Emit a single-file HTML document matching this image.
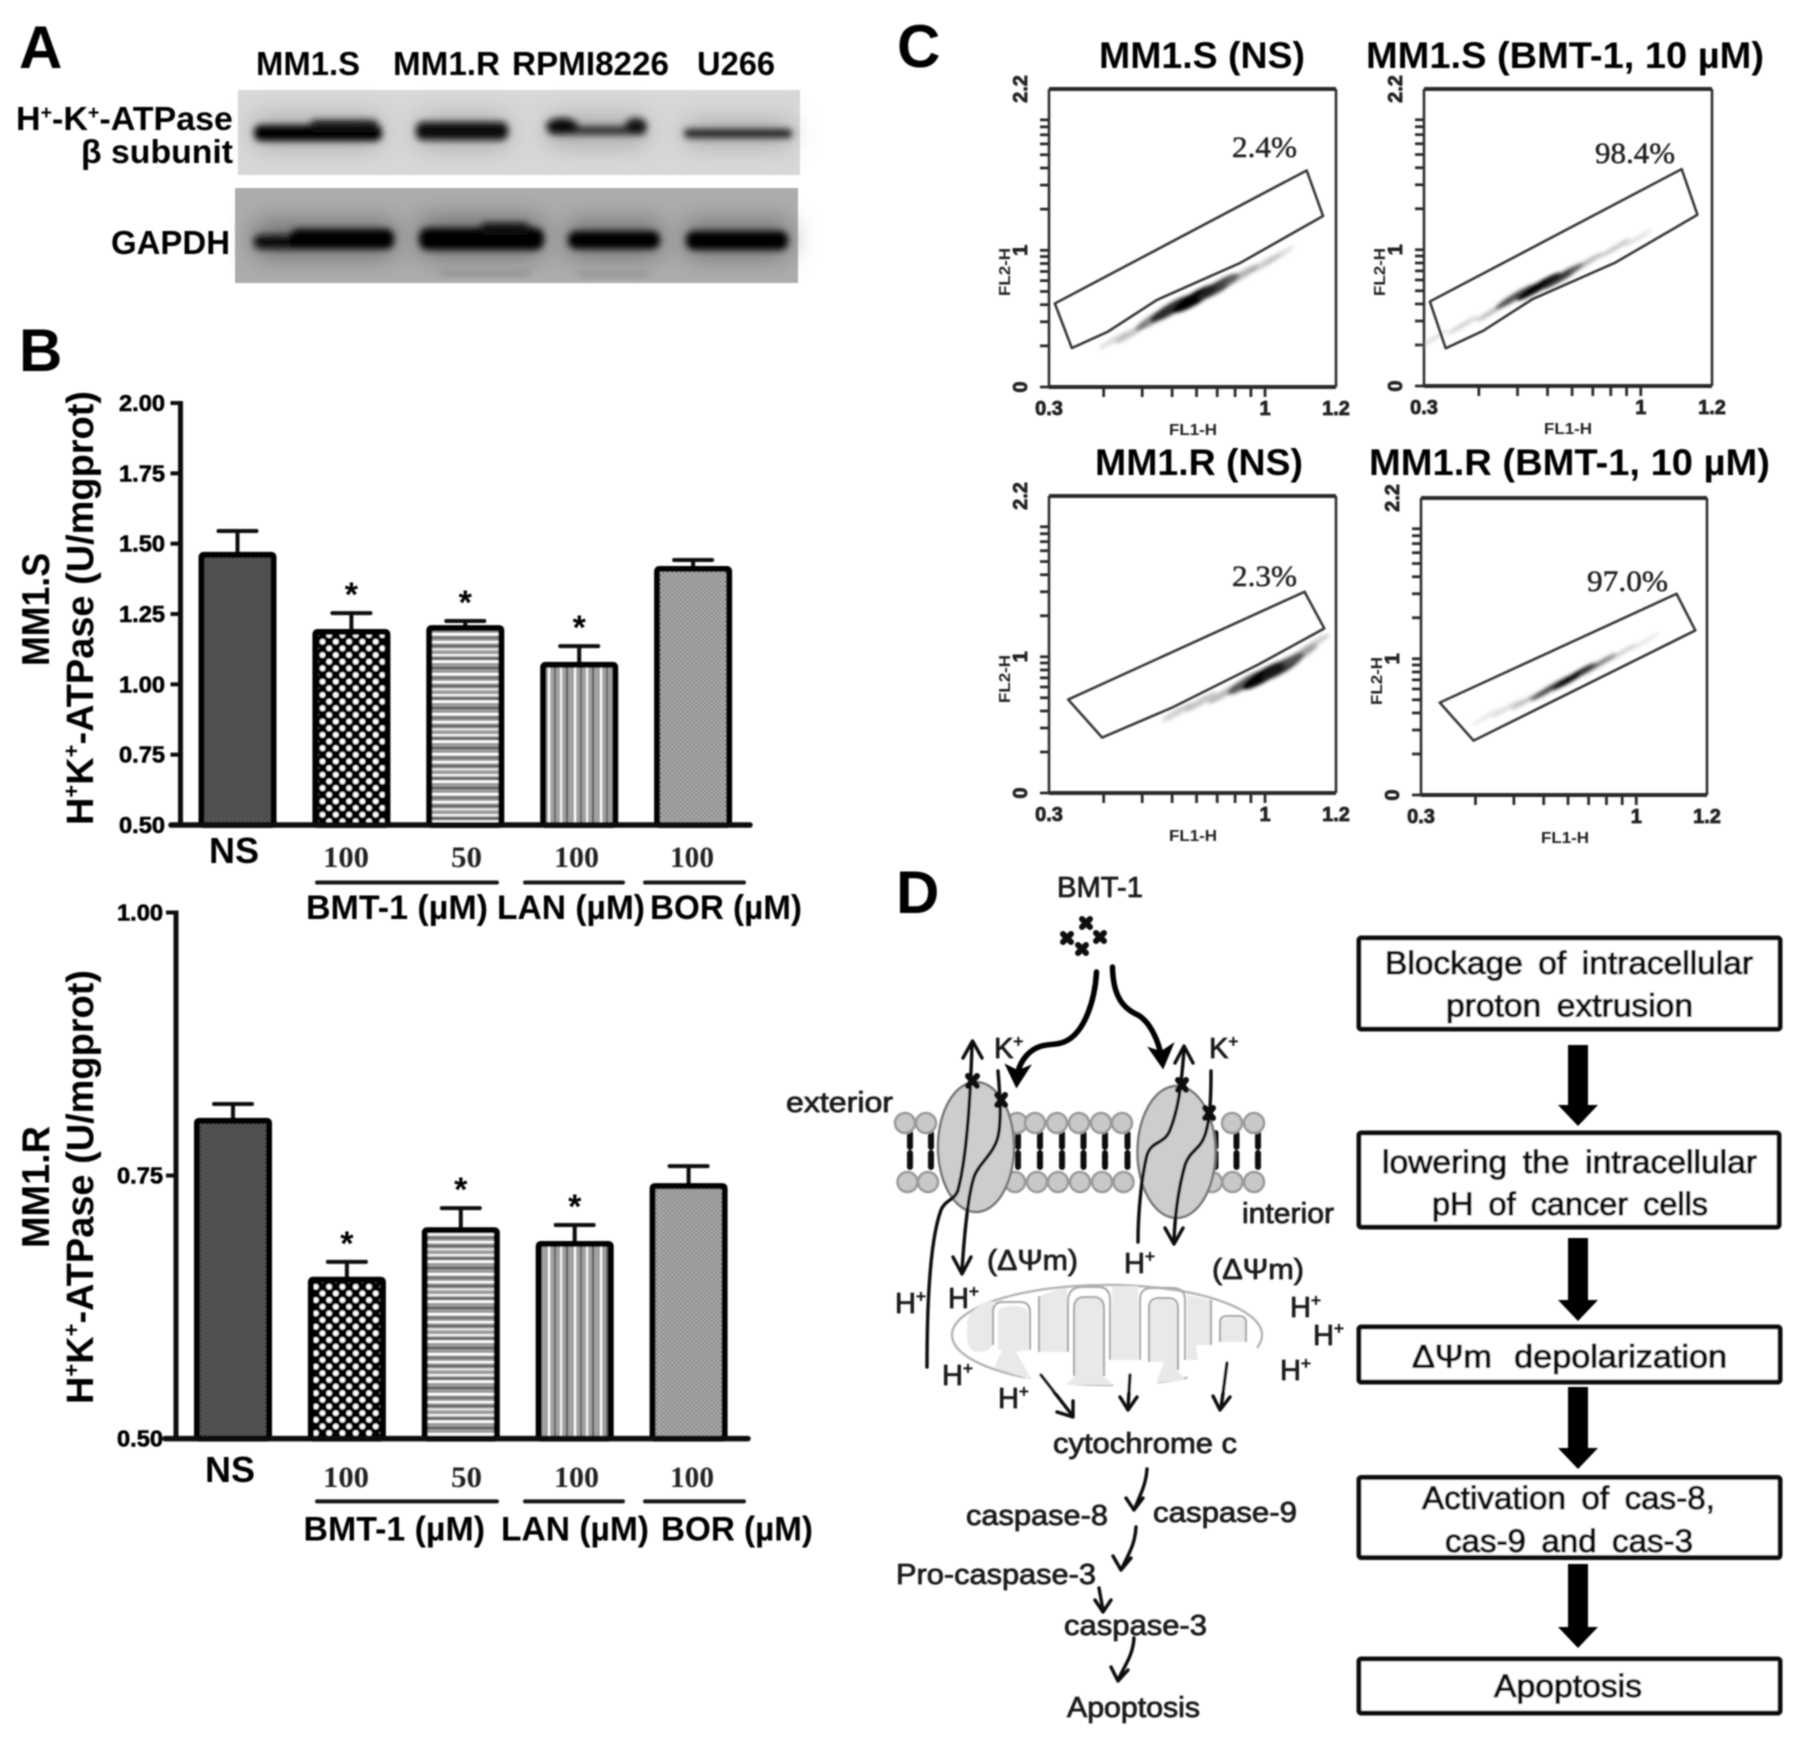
<!DOCTYPE html>
<html lang="en">
<head>
<meta charset="utf-8">
<title>H+-K+-ATPase figure</title>
<style>
html,body{margin:0;padding:0;background:#fff;}
svg{display:block;}
text{font-family:"Liberation Sans",sans-serif;}
.letter{font-weight:700;font-size:60px;fill:#000;}
.lab{font-weight:700;font-size:33px;fill:#050505;}
.ttl{font-weight:700;font-size:37px;fill:#050505;}
.d{font-size:29px;fill:#1a1a1a;stroke:#1a1a1a;stroke-width:.8px;}
.f{font-size:32px;fill:#0a0a0a;stroke:#0a0a0a;stroke-width:1.1px;}
.ln{fill:none;stroke:#0a0a0a;stroke-width:3.4;stroke-linecap:round;stroke-linejoin:round;}
.thick{fill:none;stroke:#000;stroke-width:5.5;stroke-linecap:round;}
.xm{fill:none;stroke:#0a0a0a;stroke-width:6;stroke-linecap:round;}
.box{fill:#fff;stroke:#0a0a0a;stroke-width:5;}
.cris{fill:#e9e9e9;stroke:none;}
.crisline{fill:none;stroke:#ababab;stroke-width:2.2;}
</style>
</head>
<body>
<svg id="figure" xmlns="http://www.w3.org/2000/svg" width="1795" height="1738" viewBox="0 0 1795 1738">
<defs>
  <filter id="soft" x="-2%" y="-2%" width="104%" height="104%"><feGaussianBlur stdDeviation="0.85"/></filter>
  <filter id="bandBlur" x="-20%" y="-100%" width="140%" height="300%"><feGaussianBlur stdDeviation="3.5"/></filter>
  <filter id="haloBlur" x="-30%" y="-200%" width="160%" height="500%"><feGaussianBlur stdDeviation="13"/></filter>
  <filter id="cloudBlur" x="-50%" y="-50%" width="200%" height="200%"><feGaussianBlur stdDeviation="1.8"/></filter>
  <pattern id="pat-dark" width="4" height="4" patternUnits="userSpaceOnUse"><rect width="4" height="4" fill="#3f3f3f"/><rect width="2" height="2" fill="#5c5c5c"/><rect x="2" y="2" width="2" height="2" fill="#5c5c5c"/></pattern>
  <pattern id="pat-dots" width="13.3" height="13.3" patternUnits="userSpaceOnUse"><rect width="13.3" height="13.3" fill="#050505"/><circle cx="3.3" cy="3.3" r="2.8" fill="#fff"/><circle cx="9.95" cy="9.95" r="2.8" fill="#fff"/></pattern>
  <pattern id="pat-hstripe" width="10" height="40" patternUnits="userSpaceOnUse"><rect width="10" height="40" fill="#9a9a9a"/><rect y="1" width="10" height="2.2" fill="#fff"/><rect y="5" width="10" height="2" fill="#5f5f5f"/><rect y="8.5" width="10" height="2" fill="#e4e4e4"/><rect y="14" width="10" height="2.2" fill="#f2f2f2"/><rect y="17.5" width="10" height="1.8" fill="#5a5a5a"/><rect y="20.5" width="10" height="2.4" fill="#fff"/><rect y="27" width="10" height="2" fill="#555"/><rect y="33" width="10" height="2.4" fill="#fff"/><rect y="37" width="10" height="1.6" fill="#666"/></pattern>
  <pattern id="pat-vstripe" width="26" height="10" patternUnits="userSpaceOnUse"><rect width="26" height="10" fill="#a0a0a0"/><rect x="2" width="2.2" height="10" fill="#fff"/><rect x="8" width="2" height="10" fill="#666"/><rect x="14" width="2.2" height="10" fill="#f4f4f4"/><rect x="20" width="2" height="10" fill="#5a5a5a"/></pattern>
  <pattern id="pat-gray" width="4.4" height="4.4" patternUnits="userSpaceOnUse"><rect width="4.4" height="4.4" fill="#858585"/><rect width="2.2" height="2.2" fill="#b2b2b2"/><rect x="2.2" y="2.2" width="2.2" height="2.2" fill="#b2b2b2"/></pattern>
</defs>

<g id="root" filter="url(#soft)">

<!-- PANEL A -->
<g>
  <text class="letter" x="19" y="68">A</text>
  <text class="lab" x="256" y="75" textLength="104" lengthAdjust="spacingAndGlyphs">MM1.S</text>
  <text class="lab" x="393" y="75" textLength="107" lengthAdjust="spacingAndGlyphs">MM1.R</text>
  <text class="lab" x="512" y="75" textLength="157" lengthAdjust="spacingAndGlyphs">RPMI8226</text>
  <text class="lab" x="697" y="75" textLength="78" lengthAdjust="spacingAndGlyphs">U266</text>
  <text class="lab" x="16" y="130" textLength="217" lengthAdjust="spacingAndGlyphs">H<tspan font-size="19" dy="-11">+</tspan><tspan dy="11">-K</tspan><tspan font-size="19" dy="-11">+</tspan><tspan dy="11">-ATPase</tspan></text>
  <text class="lab" x="81" y="163" textLength="152" lengthAdjust="spacingAndGlyphs">β subunit</text>
  <text class="lab" x="111" y="254" textLength="119" lengthAdjust="spacingAndGlyphs">GAPDH</text>

  <rect x="238" y="90" width="562" height="85" fill="#d8d8d8"/>
  <g filter="url(#haloBlur)" fill="#a4a4a4">
    <rect x="255" y="118" width="125" height="28"/><rect x="418" y="118" width="90" height="28"/><rect x="548" y="118" width="98" height="26"/><rect x="686" y="122" width="104" height="22"/>
  </g>
  <g filter="url(#bandBlur)">
    <rect x="254" y="125" width="128" height="16" rx="7" fill="#050505"/>
    <rect x="310" y="120" width="68" height="10" rx="5" fill="#151515"/>
    <rect x="416" y="122" width="92" height="18" rx="7" fill="#080808"/>
    <rect x="548" y="126" width="98" height="9" rx="4" fill="#333"/>
    <ellipse cx="562" cy="126" rx="16" ry="8" fill="#0c0c0c"/>
    <ellipse cx="636" cy="126" rx="11" ry="8" fill="#141414"/>
    <rect x="684" y="129" width="108" height="9" rx="4" fill="#222"/>
  </g>
  <rect x="235" y="188" width="563" height="95" fill="#adadad"/>
  <g filter="url(#haloBlur)" fill="#6e6e6e">
    <rect x="255" y="222" width="140" height="34"/><rect x="420" y="218" width="122" height="38"/><rect x="568" y="222" width="92" height="34"/><rect x="686" y="222" width="102" height="34"/>
  </g>
  <g filter="url(#bandBlur)">
    <rect x="254" y="235" width="60" height="14" rx="6" fill="#0a0a0a"/>
    <rect x="290" y="229" width="104" height="20" rx="8" fill="#030303"/>
    <rect x="419" y="228" width="125" height="22" rx="9" fill="#030303"/>
    <rect x="480" y="223" width="50" height="12" rx="6" fill="#111"/>
    <rect x="568" y="231" width="92" height="18" rx="8" fill="#060606"/>
    <rect x="686" y="231" width="102" height="19" rx="8" fill="#060606"/>
  </g>
  <rect x="440" y="271" width="90" height="4" fill="#8a8a8a" filter="url(#bandBlur)"/>
  <rect x="578" y="272" width="70" height="4" fill="#8e8e8e" filter="url(#bandBlur)"/>
</g>

<!-- PANEL B (drawn by script) -->
<g id="panel-b">
  <text class="letter" x="19" y="371">B</text>
</g>

<!-- PANEL C -->
<g id="panel-c">
  <text class="letter" x="897" y="67">C</text>
  <text class="ttl" x="1099" y="68" textLength="206" lengthAdjust="spacingAndGlyphs">MM1.S (NS)</text>
  <text class="ttl" x="1366" y="68" textLength="398" lengthAdjust="spacingAndGlyphs">MM1.S (BMT-1, 10 µM)</text>
  <text class="ttl" x="1095" y="475" textLength="208" lengthAdjust="spacingAndGlyphs">MM1.R (NS)</text>
  <text class="ttl" x="1369" y="475" textLength="401" lengthAdjust="spacingAndGlyphs">MM1.R (BMT-1, 10 µM)</text>
</g>

<!-- PANEL D -->
<g id="panel-d">
  <text class="letter" x="896" y="913">D</text>
  <text class="d" x="1057" y="897" textLength="86" lengthAdjust="spacingAndGlyphs">BMT-1</text>
  <g>
    <path class="xm" d="M1082 919l8 8M1090 919l-8 8"/>
    <path class="xm" d="M1096 933l8 8M1104 933l-8 8"/>
    <path class="xm" d="M1063 934l8 8M1071 934l-8 8"/>
    <path class="xm" d="M1078 945l8 8M1086 945l-8 8"/>
  </g>
  <g id="membrane"></g>
  <ellipse cx="976" cy="1147" rx="38" ry="65" fill="#cdcdcd" stroke="#777" stroke-width="2.5"/>
  <ellipse cx="1176.5" cy="1152" rx="39" ry="66" fill="#cdcdcd" stroke="#777" stroke-width="2.5"/>

  <path class="thick" d="M1096.5 972C1095 1000 1085 1030 1068 1040C1055 1048 1042 1040 1028 1054C1020 1062 1018 1070 1017 1076"/>
  <path d="M1006 1065L1016.5 1087L1030 1066L1018 1071Z" fill="#000" stroke="#000" stroke-width="1.5"/>
  <path class="thick" d="M1112.5 967C1113 995 1122 1008 1138 1015C1150 1022 1158 1040 1161 1055"/>
  <path d="M1149 1048L1163 1068L1173 1044L1161 1052Z" fill="#000" stroke="#000" stroke-width="1.5"/>

  <path class="ln" d="M927 1367C927 1300 930 1240 941 1210C945 1200 955 1200 958 1190C966 1160 970 1110 972 1045"/>
  <path class="ln" d="M963 1058L972.5 1041L982 1058"/>
  <path class="ln" d="M998 1071C1000 1095 1002 1125 997 1140C992 1155 978 1165 974 1177C968 1195 964 1240 962 1270"/>
  <path class="ln" d="M953 1257L962 1274L971 1257"/>
  <path class="ln" d="M1138 1242C1138 1210 1142 1175 1147 1155C1152 1140 1164 1145 1170 1130C1180 1105 1182 1075 1184 1050"/>
  <path class="ln" d="M1175 1063L1184 1046L1193 1063"/>
  <path class="ln" d="M1211 1071C1211 1100 1210 1120 1205 1135C1200 1150 1190 1150 1185 1165C1178 1190 1175 1215 1174 1240"/>
  <path class="ln" d="M1165 1228L1174 1244L1183 1228"/>

  <path class="xm" d="M968 1076l9 10M977 1076l-9 10"/>
  <path class="xm" d="M997 1095l8 10M1005 1095l-8 10"/>
  <path class="xm" d="M1178 1080l8 10M1186 1080l-8 10"/>
  <path class="xm" d="M1205 1108l8 10M1213 1108l-8 10"/>

  <text class="d" x="994" y="1058">K<tspan font-size="17" dy="-11">+</tspan></text>
  <text class="d" x="1209" y="1058">K<tspan font-size="17" dy="-11">+</tspan></text>
  <text class="d" x="786" y="1112" textLength="107" lengthAdjust="spacingAndGlyphs">exterior</text>
  <text class="d" x="1242" y="1223" textLength="92" lengthAdjust="spacingAndGlyphs">interior</text>
  <text class="d" x="987" y="1270" textLength="91" lengthAdjust="spacingAndGlyphs">(ΔΨm)</text>
  <text class="d" x="1212" y="1279" textLength="92" lengthAdjust="spacingAndGlyphs">(ΔΨm)</text>
  <text class="d" x="1124" y="1273">H<tspan font-size="17" dy="-11">+</tspan></text>
  <text class="d" x="895" y="1313">H<tspan font-size="17" dy="-11">+</tspan></text>
  <text class="d" x="948" y="1308">H<tspan font-size="17" dy="-11">+</tspan></text>
  <text class="d" x="1290" y="1317">H<tspan font-size="17" dy="-11">+</tspan></text>
  <text class="d" x="1313" y="1345">H<tspan font-size="17" dy="-11">+</tspan></text>
  <text class="d" x="1280" y="1380">H<tspan font-size="17" dy="-11">+</tspan></text>
  <text class="d" x="942" y="1385">H<tspan font-size="17" dy="-11">+</tspan></text>
  <text class="d" x="998" y="1408">H<tspan font-size="17" dy="-11">+</tspan></text>

  <g>
    <ellipse cx="1107" cy="1335" rx="155" ry="50" fill="#fff" stroke="#b5b5b5" stroke-width="2.5"/>
    <path d="M1016 1352L1074 1348L1074 1392L1030 1392Z" fill="#fff"/>
    <path d="M1104 1360L1158 1362L1158 1392L1116 1392Z" fill="#fff"/>
    <path d="M1195 1346L1250 1342L1262 1352L1225 1392L1184 1392Z" fill="#fff"/>
    <path class="cris" d="M967 1325C967 1312 980 1303 993 1301L993 1340C993 1350 985 1352 978 1352C970 1352 967 1345 967 1335Z"/>
    <path class="cris" d="M998 1312C998 1304 1028 1304 1028 1312L1028 1350L1016 1352L1032 1380L994 1368L1002 1350L998 1350Z"/>
    <path class="cris" d="M1040 1296Q1053 1290 1067 1288L1067 1352L1040 1352Z"/>
    <path class="cris" d="M1075 1306C1075 1295 1103 1295 1103 1306L1103 1376L1114 1385L1066 1385L1075 1376Z"/>
    <path class="cris" d="M1112 1286L1138 1286L1138 1360L1112 1360Z"/>
    <path class="cris" d="M1150 1308C1150 1296 1177 1296 1177 1308L1177 1370L1186 1380L1156 1383L1164 1362L1150 1362Z"/>
    <path class="cris" d="M1187 1295L1210 1300L1210 1345L1196 1345L1198 1360L1187 1360Z"/>
    <path class="cris" d="M1220 1322C1220 1316 1245 1316 1245 1322L1245 1342L1220 1342Z"/>
    <path class="crisline" d="M993 1345V1312Q993 1302 1003 1302H1020Q1030 1302 1030 1312V1350"/>
    <path class="crisline" d="M1068 1352V1302Q1068 1287 1082 1287H1098Q1110 1287 1110 1300V1360"/>
    <path class="crisline" d="M1074 1376V1308Q1074 1297 1085 1297H1093Q1104 1297 1104 1308V1376"/>
    <path class="crisline" d="M1140 1360V1300Q1140 1288 1152 1288H1172Q1185 1288 1185 1300V1360"/>
    <path class="crisline" d="M1149 1362V1308Q1149 1298 1159 1298H1168Q1178 1298 1178 1308V1370"/>
    <path class="crisline" d="M1220 1342V1322Q1220 1316 1228 1316H1238Q1246 1316 1246 1322V1342"/>
    <path class="crisline" d="M1211 1300V1345"/>
    <path class="crisline" d="M1039 1296V1352"/>
  </g>

  <path class="ln" d="M1041 1375L1072 1415M1057 1412L1073 1417L1073 1401"/>
  <path class="ln" d="M1130 1375L1128 1408M1120 1397L1128 1410L1137 1397"/>
  <path class="ln" d="M1227 1363L1221 1408M1213 1396L1220 1410L1230 1397"/>
  <text class="d" x="1053" y="1453" textLength="184" lengthAdjust="spacingAndGlyphs">cytochrome c</text>
  <path class="ln" d="M1147 1469C1146 1485 1140 1495 1135 1508M1126 1498L1134 1510L1143 1498"/>
  <text class="d" x="966" y="1525" textLength="142" lengthAdjust="spacingAndGlyphs">caspase-8</text>
  <text class="d" x="1153" y="1522" textLength="144" lengthAdjust="spacingAndGlyphs">caspase-9</text>
  <path class="ln" d="M1136 1527C1135 1545 1128 1555 1122 1568M1113 1556L1121 1570L1131 1558"/>
  <text class="d" x="896" y="1584" textLength="200" lengthAdjust="spacingAndGlyphs">Pro-caspase-3</text>
  <path class="ln" d="M1099 1588L1103 1610M1095 1600L1103 1612L1111 1600"/>
  <text class="d" x="1064" y="1635" textLength="143" lengthAdjust="spacingAndGlyphs">caspase-3</text>
  <path class="ln" d="M1134 1638C1133 1655 1125 1665 1119 1678M1111 1667L1118 1681L1128 1670"/>
  <text class="d" x="1067" y="1717" textLength="133" lengthAdjust="spacingAndGlyphs">Apoptosis</text>

  <g>
    <rect class="box" x="1359" y="938" width="421" height="91" rx="2"/>
    <text class="f" x="1385" y="974" textLength="368" lengthAdjust="spacingAndGlyphs" word-spacing="6">Blockage of intracellular</text>
    <text class="f" x="1446" y="1016.5" textLength="247" lengthAdjust="spacingAndGlyphs" word-spacing="6">proton extrusion</text>
    <path d="M1568 1045H1588V1105H1598L1578 1126L1558 1105H1568Z" fill="#000"/>
    <rect class="box" x="1359" y="1133" width="420" height="94" rx="2"/>
    <text class="f" x="1382" y="1173" textLength="375" lengthAdjust="spacingAndGlyphs" word-spacing="6">lowering the intracellular</text>
    <text class="f" x="1432" y="1215" textLength="276" lengthAdjust="spacingAndGlyphs" word-spacing="6">pH of cancer cells</text>
    <path d="M1568 1238H1588V1300H1598L1578 1321L1558 1300H1568Z" fill="#000"/>
    <rect class="box" x="1359" y="1327" width="421" height="55" rx="2"/>
    <text class="f" x="1412" y="1367.5" textLength="315" lengthAdjust="spacingAndGlyphs" word-spacing="12">ΔΨm depolarization</text>
    <path d="M1568 1387H1588V1448H1598L1578 1469L1558 1448H1568Z" fill="#000"/>
    <rect class="box" x="1359" y="1477.5" width="421" height="80" rx="2"/>
    <text class="f" x="1422" y="1509" textLength="293" lengthAdjust="spacingAndGlyphs" word-spacing="6">Activation of cas-8,</text>
    <text class="f" x="1445" y="1552" textLength="248" lengthAdjust="spacingAndGlyphs" word-spacing="6">cas-9 and cas-3</text>
    <path d="M1568 1564H1588V1627H1598L1578 1648L1558 1627H1568Z" fill="#000"/>
    <rect class="box" x="1359" y="1659" width="421" height="54" rx="2"/>
    <text class="f" x="1494" y="1697" textLength="148" lengthAdjust="spacingAndGlyphs">Apoptosis</text>
  </g>
</g>
</g>
</svg>

<script>
/* ---------- Panel B data ---------- */
const barCategories = ['NS', 'BMT-1 100', 'BMT-1 50', 'LAN 100', 'BOR 100'];
const barDoseLabels = ['100', '50', '100', '100'];
const mm1sMeans = [1.46, 1.186, 1.20, 1.069, 1.41];
const mm1sErrors = [0.085, 0.067, 0.025, 0.067, 0.032];
const mm1sSignificant = [false, true, true, true, false];
const mm1sTicks = ['0.50', '0.75', '1.00', '1.25', '1.50', '1.75', '2.00'];
const mm1rMeans = [0.802, 0.651, 0.698, 0.685, 0.74];
const mm1rErrors = [0.016, 0.017, 0.021, 0.018, 0.019];
const mm1rSignificant = [false, true, true, true, false];
const mm1rTicks = ['0.50', '0.75', '1.00'];
const barPatterns = ['pat-dark', 'pat-dots', 'pat-hstripe', 'pat-vstripe', 'pat-gray'];

/* ---------- Panel C data (log10 fluorescence units) ---------- */
const gateNsSX = [0.319, 1.135, 1.188, 0.919, 0.649, 0.491, 0.374];
const gateNsSY = [0.611, 1.584, 1.251, 0.907, 0.636, 0.405, 0.285];
const cloudNsSX = [0.508, 0.565, 0.640, 0.697, 0.773, 0.848, 0.924, 0.999, 1.047];
const cloudNsSY = [0.342, 0.391, 0.501, 0.574, 0.648, 0.733, 0.819, 0.904, 0.965];
const cloudNsSD = [0.1, 0.25, 0.55, 0.85, 1, 0.8, 0.35, 0.2, 0.1];

const gateBmtSX = [0.319, 1.132, 1.183, 0.919, 0.649, 0.491, 0.37];
const gateBmtSY = [0.62, 1.592, 1.257, 0.907, 0.636, 0.405, 0.277];
const cloudBmtSX = [0.332, 0.426, 0.520, 0.596, 0.671, 0.746, 0.822, 0.916, 0.991];
const cloudBmtSY = [0.350, 0.448, 0.546, 0.657, 0.730, 0.804, 0.902, 1.012, 1.085];
const cloudBmtSD = [0.1, 0.2, 0.3, 0.75, 1, 0.85, 0.35, 0.25, 0.1];

const gateNsRX = [0.362, 1.128, 1.192, 0.98, 0.697, 0.472];
const gateNsRY = [0.686, 1.477, 1.208, 0.945, 0.625, 0.407];
const cloudNsRX = [0.716, 0.791, 0.867, 0.943, 0.999, 1.056, 1.113, 1.160];
const cloudNsRY = [0.595, 0.669, 0.730, 0.816, 0.865, 0.926, 1.012, 1.098];
const cloudNsRD = [0.2, 0.25, 0.3, 0.7, 1, 0.9, 0.45, 0.2];

const gateBmtRX = [0.361, 1.131, 1.192, 0.471];
const gateBmtRY = [0.678, 1.477, 1.208, 0.399];
const cloudBmtRX = [0.513, 0.580, 0.646, 0.722, 0.798, 0.874, 0.950, 1.027];
const cloudBmtRY = [0.576, 0.637, 0.698, 0.784, 0.870, 0.956, 1.041, 1.127];
const cloudBmtRD = [0.1, 0.2, 0.35, 0.8, 1, 0.6, 0.25, 0.1];

const flowXMultiples = [3, 4, 5, 6, 7, 8, 9, 10];
const flowYMultiples = [1, 2, 3, 4, 5, 6, 7, 8, 9];
const flowXLabels = ['0.3', '1', '1.2'];
const flowYLabels = ['0', '1', '2.2'];

/* ---------- Membrane data ---------- */
const headsTopX = [905, 926, 1017, 1035, 1057, 1079, 1101, 1122, 1232, 1254];
const headsBottomX = [907.5, 928, 1015, 1037, 1058, 1080, 1102, 1123.5, 1212, 1232.5, 1254];
const tailX = [910, 931, 1018, 1040, 1062, 1083.5, 1105, 1127.5, 1215.5, 1236.5, 1258];

const NS = 'http://www.w3.org/2000/svg';
function shape(parent, tag, props, txt) {
  const node = document.createElementNS(NS, tag);
  for (const key in props) node.setAttribute(key, props[key]);
  if (txt !== undefined) node.textContent = txt;
  parent.appendChild(node);
  return node;
}

/* ---------- Bar chart ---------- */
function drawBarChart(cfg) {
  const panel = document.getElementById('panel-b');
  const group = shape(panel, 'g', {});
  
  
  const yScale = v => cfg.yBottom - (v - cfg.yMin) / (cfg.yMax - cfg.yMin) * (cfg.yBottom - cfg.yTop);
  const xScale = i => cfg.xFirst + i * cfg.xStep;
  const halfBar = 36;

  cfg.means.forEach((v, i) => {
    const yv = yScale(v);
    const ye = yScale(v + cfg.errors[i]);
    const cx = xScale(i);
    const err = shape(group, 'path', {
      d: 'M' + cx + ' ' + yv + 'V' + ye + 'M' + (cx - 19) + ' ' + ye + 'H' + (cx + 19),
      fill: 'none', stroke: '#0a0a0a', 'stroke-width': 4, 'stroke-linecap': 'round'
    });
    
    
    const bar = shape(group, 'rect', {
      x: cx - halfBar, y: yv, width: 2 * halfBar, height: cfg.yBottom - yv, rx: 2,
      fill: 'url(#' + barPatterns[i] + ')', stroke: '#050505', 'stroke-width': 6
    });
    
    
    if (cfg.significant[i]) {
      const star = shape(group, 'text', {
        x: cx, y: ye - 26 + 19, 'text-anchor': 'middle', 'font-size': 34, 'font-weight': 700, fill: '#000'
      }, '*');
      
      
    }
  });

  const yAxis = shape(group, 'line', {
    x1: cfg.xAxisLine, x2: cfg.xAxisLine, y1: cfg.yTop - 2, y2: cfg.yBottom,
    stroke: '#080808', 'stroke-width': 5
  });
  
  
  const xAxis = shape(group, 'line', {
    x1: cfg.xAxisStart, x2: cfg.xAxisEnd, y1: cfg.yBottom, y2: cfg.yBottom,
    stroke: '#080808', 'stroke-width': 5.5, 'stroke-linecap': 'round'
  });
  
  

  cfg.ticks.forEach(label => {
    const yy = yScale(parseFloat(label));
    const tick = shape(group, 'line', {
      x1: cfg.xAxisLine - 10, x2: cfg.xAxisLine, y1: yy, y2: yy, stroke: '#080808', 'stroke-width': 4
    });
    
    
    const tl = shape(group, 'text', {
      x: cfg.tickLabelX, y: yy + 8, 'font-size': 23, 'font-weight': 700, fill: '#000', stroke: '#000', 'stroke-width': 0.6,
      textLength: 46, lengthAdjust: 'spacingAndGlyphs'
    }, label);
    
    
  });

  /* y titles */
  const title = shape(group, 'text', {
    transform: 'translate(93 ' + cfg.titleBottom + ') rotate(-90)', 'font-size': 38, 'font-weight': 700,
    fill: '#050505', textLength: cfg.titleLength, lengthAdjust: 'spacingAndGlyphs'
  });
  
  
  [['H', 0], ['+', -14], ['K', 14], ['+', -14], ['-ATPase (U/mgprot)', 14]].forEach(part => {
    shape(title, 'tspan', { dy: part[1], 'font-size': part[0] === '+' ? 22 : 38 }, part[0]);
  });
  const line = shape(group, 'text', {
    transform: 'translate(49 ' + cfg.cellBottom + ') rotate(-90)', 'font-size': 39, 'font-weight': 700,
    fill: '#050505', textLength: cfg.cellLength, lengthAdjust: 'spacingAndGlyphs'
  }, cfg.cellLine);
  
  

  /* x labels */
  const nsLabel = shape(group, 'text', {
    x: cfg.nsX, y: cfg.nsY, 'font-size': 36, 'font-weight': 700, fill: '#050505',
    textLength: 50, lengthAdjust: 'spacingAndGlyphs'
  }, 'NS');
  
  
  const doseX = [323, 451, 554, 670];
  const doseW = [46, 31, 45, 44];
  barDoseLabels.forEach((label, i) => {
    const dose = shape(group, 'text', {
      x: doseX[i], y: cfg.doseY, 'font-size': 30, 'font-weight': 700,
      fill: '#222', textLength: doseW[i], lengthAdjust: 'spacingAndGlyphs',
      style: 'font-family:"Liberation Serif",serif'
    }, label);
    
    
  });
  [[317, 497], [525, 623], [645, 744]].forEach(span => {
    const rule = shape(group, 'line', {
      x1: span[0], x2: span[1], y1: cfg.ruleY, y2: cfg.ruleY, stroke: '#151515', 'stroke-width': 4, 'stroke-linecap': 'round'
    });
    
    
  });
  cfg.groups.forEach(g => {
    const gl = shape(group, 'text', {
      x: g[1], y: cfg.groupY, 'font-size': 34, 'font-weight': 700, fill: '#050505',
      textLength: g[2], lengthAdjust: 'spacingAndGlyphs'
    }, g[0]);
    
    
  });
}

drawBarChart({
  name: 'mm1s-bar-chart', means: mm1sMeans, errors: mm1sErrors, significant: mm1sSignificant, ticks: mm1sTicks,
  yMin: 0.5, yMax: 2, yTop: 403, yBottom: 825, xFirst: 237.5, xStep: 113.9,
  xAxisLine: 180.5, xAxisStart: 171, xAxisEnd: 750, tickLabelX: 119,
  titleBottom: 825, titleLength: 434, cellLine: 'MM1.S', cellBottom: 666, cellLength: 113,
  nsX: 209, nsY: 863, doseY: 867, ruleY: 882.5, groupY: 919,
  groups: [['BMT-1 (µM)', 306, 182], ['LAN (µM)', 497, 148], ['BOR (µM)', 650, 152]]
});
drawBarChart({
  name: 'mm1r-bar-chart', means: mm1rMeans, errors: mm1rErrors, significant: mm1rSignificant, ticks: mm1rTicks,
  yMin: 0.5, yMax: 1, yTop: 912.5, yBottom: 1438.6, xFirst: 233, xStep: 113.9,
  xAxisLine: 176, xAxisStart: 165, xAxisEnd: 748, tickLabelX: 117,
  titleBottom: 1404, titleLength: 434, cellLine: 'MM1.R', cellBottom: 1248, cellLength: 122,
  nsX: 205, nsY: 1482, doseY: 1487, ruleY: 1501.4, groupY: 1540.5,
  groups: [['BMT-1 (µM)', 303.5, 181.5], ['LAN (µM)', 501, 148], ['BOR (µM)', 661, 152]]
});

/* ---------- Flow plots ---------- */
function drawFlowPlot(cfg) {
  const panel = document.getElementById('panel-c');
  const group = shape(panel, 'g', {});
  
  
  const x1 = cfg.x + cfg.w, y1 = cfg.y + cfg.h;
  const sx = lg => cfg.x + (lg - 0.3) / 0.93 * cfg.w;
  const sy = lg => y1 - lg / 2.18 * cfg.h;

  const frame = shape(group, 'path', {
    d: 'M' + cfg.x + ' ' + cfg.y + 'V' + y1 + 'M' + x1 + ' ' + cfg.y + 'V' + y1,
    stroke: '#333', 'stroke-width': 2.6, fill: 'none'
  });
  
  
  const caps = shape(group, 'path', {
    d: 'M' + cfg.x + ' ' + cfg.y + 'H' + x1 + 'M' + cfg.x + ' ' + y1 + 'H' + x1,
    stroke: '#2c2c2c', 'stroke-width': 4, fill: 'none'
  });
  
  

  [0, 1].forEach(dec => {
    flowYMultiples.forEach(m => {
      const t = shape(group, 'line', {
        x1: cfg.x - 9, x2: cfg.x, y1: sy(dec + Math.log10(m)), y2: sy(dec + Math.log10(m)),
        stroke: '#2c2c2c', 'stroke-width': 2.8
      });
      
      
    });
  });
  flowXMultiples.forEach(m => {
    const t = shape(group, 'line', {
      x1: sx(Math.log10(m)), x2: sx(Math.log10(m)), y1: y1, y2: y1 + 10, stroke: '#2c2c2c', 'stroke-width': 2.8
    });
    
    
  });

  [0.3, 1, 1.23].forEach((lg, i) => {
    const t = shape(group, 'text', {
      x: sx(lg), y: y1 + 28, 'text-anchor': 'middle', 'font-size': 20, 'font-weight': 700, fill: '#222', stroke: '#222', 'stroke-width': 0.8
    }, flowXLabels[i]);
    
    
  });
  [0, 1, 2.18].forEach((lg, i) => {
    const t = shape(group, 'text', {
      transform: 'translate(' + (cfg.x - 22) + ' ' + sy(lg) + ') rotate(-90)',
      'text-anchor': 'middle', 'font-size': 20, 'font-weight': 700, fill: '#222', stroke: '#222', 'stroke-width': 0.8
    }, flowYLabels[i]);
    
    
  });

  const xt = shape(group, 'text', {
    x: cfg.x + 144, y: y1 + 48, 'text-anchor': 'middle', 'font-size': 16, 'font-weight': 700, fill: '#222',
    textLength: 48, lengthAdjust: 'spacingAndGlyphs'
  }, 'FL1-H');
  
  
  const yt = shape(group, 'text', {
    transform: 'translate(' + (cfg.x - 39) + ' ' + (cfg.y + 183) + ') rotate(-90)', 'text-anchor': 'middle',
    'font-size': 16, 'font-weight': 700, fill: '#222', textLength: 48, lengthAdjust: 'spacingAndGlyphs'
  }, 'FL2-H');
  
  

  const cloud = shape(group, 'g', { filter: 'url(#cloudBlur)' });
  
  
  cfg.cloudX.forEach((lx, i) => {
    const cx = sx(lx), cy = sy(cfg.cloudY[i]);
    const den = cfg.cloudD[i];
    const shade = Math.round(190 * (1 - den));
    const pt = shape(cloud, 'ellipse', {
      cx: cx, cy: cy, rx: 16 + 10 * den, ry: cfg.thick * (0.4 + 0.6 * den),
      transform: 'rotate(-31 ' + cx + ' ' + cy + ')',
      fill: 'rgb(' + shade + ',' + shade + ',' + shade + ')', opacity: 0.35 + 0.65 * den
    });
    
    
  });

  const gate = shape(group, 'polygon', {
    points: cfg.gateX.map((lx, i) => sx(lx) + ',' + sy(cfg.gateY[i])).join(' '),
    fill: 'none', stroke: '#3a3a3a', 'stroke-width': 2.6, 'stroke-linejoin': 'round'
  });
  
  

  const pct = shape(group, 'text', {
    x: cfg.pctX, y: cfg.pctY, 'font-size': 30, fill: '#222', stroke: '#222', 'stroke-width': 0.5,
    style: 'font-family:"Liberation Serif",serif', textLength: cfg.pctW, lengthAdjust: 'spacingAndGlyphs'
  }, cfg.pct);
  
  
}

drawFlowPlot({ name: 'flow-plot-mm1s-ns', x: 1049, y: 89, w: 287, h: 298, gateX: gateNsSX, gateY: gateNsSY, cloudX: cloudNsSX, cloudY: cloudNsSY, cloudD: cloudNsSD, thick: 6, pct: '2.4%', pctX: 1232, pctY: 157, pctW: 65 });
drawFlowPlot({ name: 'flow-plot-mm1s-bmt', x: 1424, y: 89, w: 288, h: 297, gateX: gateBmtSX, gateY: gateBmtSY, cloudX: cloudBmtSX, cloudY: cloudBmtSY, cloudD: cloudBmtSD, thick: 4, pct: '98.4%', pctX: 1595, pctY: 163, pctW: 80 });
drawFlowPlot({ name: 'flow-plot-mm1r-ns', x: 1049, y: 496, w: 287, h: 297, gateX: gateNsRX, gateY: gateNsRY, cloudX: cloudNsRX, cloudY: cloudNsRY, cloudD: cloudNsRD, thick: 6, pct: '2.3%', pctX: 1232, pctY: 586, pctW: 65 });
drawFlowPlot({ name: 'flow-plot-mm1r-bmt', x: 1421, y: 498, w: 286, h: 297, gateX: gateBmtRX, gateY: gateBmtRY, cloudX: cloudBmtRX, cloudY: cloudBmtRY, cloudD: cloudBmtRD, thick: 3, pct: '97.0%', pctX: 1587, pctY: 591, pctW: 81 });

/* ---------- Membrane ---------- */
(function () {
  const mem = document.getElementById('membrane');
  tailX.forEach(x => {
    const tail = shape(mem, 'path', {
      d: 'M' + x + ' 1133V1147M' + x + ' 1153V1167', stroke: '#0a0a0a', 'stroke-width': 6, 'stroke-linecap': 'round'
    });
    
    
  });
  headsTopX.forEach(x => {
    const head = shape(mem, 'circle', { cx: x, cy: 1123, r: 10, fill: '#c8c8c8', stroke: '#9a9a9a', 'stroke-width': 2.5 });
    
    
  });
  headsBottomX.forEach(x => {
    const head = shape(mem, 'circle', { cx: x, cy: 1182, r: 10, fill: '#c8c8c8', stroke: '#9a9a9a', 'stroke-width': 2.5 });
    
    
  });
})();
</script>
</body>
</html>
